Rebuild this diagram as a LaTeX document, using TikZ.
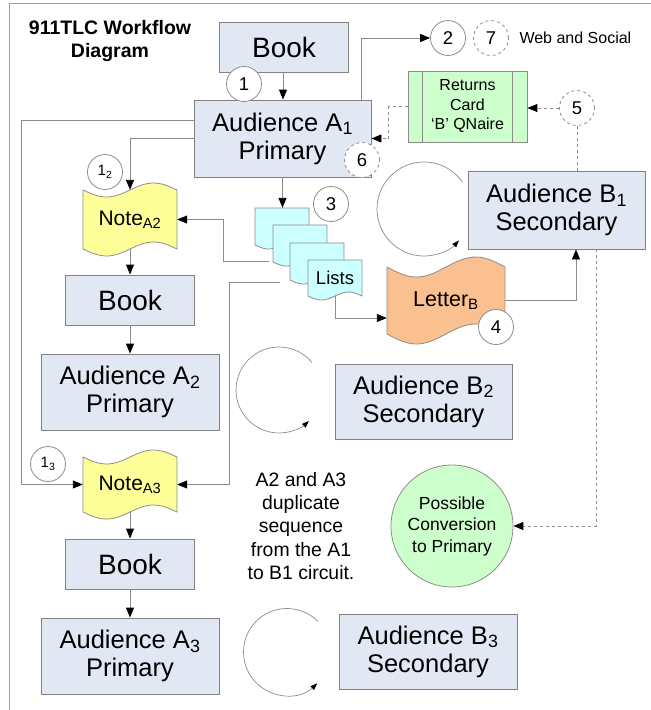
\documentclass[tikz,border=0pt]{standalone}
\usepackage{fontspec}
\setmainfont{Liberation Sans}
\usetikzlibrary{arrows.meta}
\definecolor{boxfill}{RGB}{225,232,244}
\definecolor{boxline}{RGB}{130,130,130}
\definecolor{linegray}{RGB}{140,140,140}
\definecolor{framegray}{RGB}{160,160,160}
\definecolor{notefill}{RGB}{255,255,153}
\definecolor{listfill}{RGB}{204,255,255}
\definecolor{letterfill}{RGB}{250,192,143}
\definecolor{greenfill}{RGB}{204,255,204}
\newcommand{\myfs}[2]{\fontsize{#1}{#2}\selectfont}
\newcommand{\docshape}[4]{%
  \filldraw[draw=linegray, fill=listfill, line width=0.8pt] (#1,#2) -- ++(#3,0) -- ++(0,#4)
   -- plot[domain=0:1, samples=30] ({#1+#3*(1-\x)}, {#2+#4+4*sin(360*(1-\x))}) -- cycle;}
\newcommand{\tapeshape}[6]{%
  \filldraw[draw=linegray, fill=#6, line width=0.8pt]
   plot[domain=0:1, samples=30] ({#1+#2*\x}, {#3+#5*sin(360*\x)})
   -- plot[domain=0:1, samples=30] ({#1+#2*(1-\x)}, {#4+#5*sin(360*(1-\x))}) -- cycle;}
\begin{document}
\begin{tikzpicture}[x=1pt,y=-1pt,
  box/.style={draw=boxline, fill=boxfill, line width=0.9pt, inner sep=0pt, align=center, font=\myfs{25.5}{28}},
  bookbox/.style={box, minimum width=129pt, minimum height=50pt, font=\myfs{28}{30}},
  audbox/.style={box, minimum width=177pt, minimum height=77pt},
  num/.style={circle, draw=linegray, fill=white, line width=0.8pt, minimum size=35pt, inner sep=0pt, font=\myfs{18.5}{18.5}},
  dnum/.style={num, dashed},
  conn/.style={draw=linegray, line width=0.9pt, -{Triangle[length=10pt,width=8pt,color=black]}},
  dconn/.style={conn, dashed},
  loopline/.style={draw=linegray, line width=0.7pt, -{Triangle[length=7pt,width=5pt,color=black]}},
  anchorbox/.style={inner sep=0pt, align=center}
]
\useasboundingbox (0,0) rectangle (651,710);
% frame
\draw[framegray, line width=0.9pt] (9,710) -- (9,3) -- (651,3);

% title
\node[anchor=center, align=center, font=\bfseries\myfs{19.5}{23}] (title) at (110,41) {911TLC Workflow\\Diagram};

% boxes
\node[bookbox] (book1) at (284,47) {Book};
\node[audbox] (a1) at (282.5,138.5) {Audience A\textsubscript{1}\\Primary};
\node[bookbox] (book2) at (130,300) {Book};
\node[audbox, minimum width=178pt, minimum height=76pt] (a2) at (130,392) {Audience A\textsubscript{2}\\Primary};
\node[bookbox] (book3) at (130,564) {Book};
\node[audbox, minimum width=178pt, minimum height=76pt] (a3) at (130,656) {Audience A\textsubscript{3}\\Primary};
\node[audbox, minimum height=78pt] (b1) at (556.5,210) {Audience B\textsubscript{1}\\Secondary};
\node[audbox, minimum height=75pt] (b2) at (423.5,401.5) {Audience B\textsubscript{2}\\Secondary};
\node[audbox, minimum width=178pt, minimum height=75pt] (b3) at (428,651.5) {Audience B\textsubscript{3}\\Secondary};

% returns card
\node[draw=linegray, fill=greenfill, line width=0.8pt, minimum width=119pt, minimum height=71pt, inner sep=0pt, align=center, font=\myfs{16}{19.5}] (card) at (467.5,106.5) {Returns\\Card\\‘B’ QNaire};
\draw[linegray, line width=0.8pt] ([xshift=15pt]card.north west) -- ([xshift=15pt]card.south west);
\draw[linegray, line width=0.8pt] ([xshift=-15pt]card.north east) -- ([xshift=-15pt]card.south east);

% notes
\tapeshape{83}{94}{190}{249}{7}{notefill}
\node[anchorbox, minimum width=94pt, minimum height=59pt, font=\myfs{21}{21}] (noteA2) at (130,219.5) {Note\textsubscript{A2}};
\tapeshape{83}{94}{457}{512}{7}{notefill}
\node[anchorbox, minimum width=94pt, minimum height=55pt, font=\myfs{21}{21}] (noteA3) at (130,484.5) {Note\textsubscript{A3}};

% letter
\tapeshape{387}{118}{267}{334}{10}{letterfill}
\node[anchorbox, minimum width=118pt, minimum height=67pt, font=\myfs{21.5}{21.5}] (letter) at (446,300.5) {Letter\textsubscript{B}};

% lists stack
\docshape{255}{208}{54}{37}
\docshape{273}{225}{54}{37}
\docshape{290}{243}{54}{37}
\docshape{308}{260}{54}{36}
\node[anchorbox, minimum width=54pt, minimum height=37pt] (doc1) at (282,226.5) {};
\node[anchorbox, minimum width=54pt, minimum height=36pt, font=\myfs{18.5}{18.5}] (lists) at (335,278) {Lists};

% conversion circle
\node[circle, draw=linegray, fill=greenfill, line width=0.8pt, minimum size=122pt, inner sep=0pt, align=center, font=\myfs{17.5}{21.5}] (conv) at (452,526) {Possible\\Conversion\\to Primary};

% text
\node[anchor=west, font=\myfs{16}{16}] (web) at (516,38) {Web and Social};
\node[align=center, font=\myfs{19.4}{23.3}] (dup) at (301,526) {A2 and A3\\duplicate\\sequence\\from the A1\\to B1 circuit.};

% loops
\draw[loopline] ([shift={(-35:47)}]424,209) arc[start angle=-35, end angle=-318, radius=47];
\draw[loopline] ([shift={(-40:43)}]279,390) arc[start angle=-40, end angle=-314, radius=43];
\draw[loopline] ([shift={(-45:43.5)}]287,652) arc[start angle=-45, end angle=-314, radius=43.5];

% number circles
\node[num] (c1) at (244,84) {1};
\node[num] (c2) at (448,38) {2};
\node[dnum] (c7) at (491,38) {7};
\node[num] (c3) at (331,204) {3};
\node[num] (c4) at (496,327) {4};
\node[dnum] (c5) at (577,108) {5};
\node[dnum] (c6) at (362,160) {6};
\node[num, font=\myfs{15}{15}] (c12) at (105,172) {1\textsubscript{2}};
\node[num, font=\myfs{15}{15}] (c13) at (48,464) {1\textsubscript{3}};

% coordinates for free ends
\coordinate (lA) at (269,261);
\coordinate (lB) at (280,282);

% connectors
\draw[conn] (book1.south -| 283,0) -- (a1.north -| 283,0);
\draw[conn] ([xshift=-10pt]a1.north east) |- (c2.west);
\draw[conn] ([yshift=18.5pt]a1.west) -- ++(-172,0) |- (noteA3.west);
\draw[conn] (a1.west) -| (noteA2.north);
\draw[conn] (a1.south) -- (a1.south |- doc1.north);
\draw[conn] (noteA2.south) -- (book2.north);
\draw[conn] (book2.south) -- (a2.north);
\draw[conn] (noteA3.south) -- (book3.north);
\draw[conn] (book3.south) -- (a3.north);
\draw[conn] (lA) -- ++(-46,0) |- (noteA2.east);
\draw[conn] (lB) -- ++(-51,0) |- (noteA3.east);
\draw[conn] (lists.south) |- ([yshift=-17.5pt]letter.west);
\draw[conn] (letter.east) -| ([xshift=19.5pt]b1.south);
\draw[dconn] (c5.west) -- (card.east |- c5.west);
\draw[dconn] (card.west) -- ++(-19,0) |- (a1.east);
\draw[draw=linegray, line width=0.9pt, dashed] (c5.south) -- (c5.south |- b1.north);
\draw[dconn] ([xshift=39.5pt]b1.south) |- (conv.east);
\end{tikzpicture}
\end{document}
